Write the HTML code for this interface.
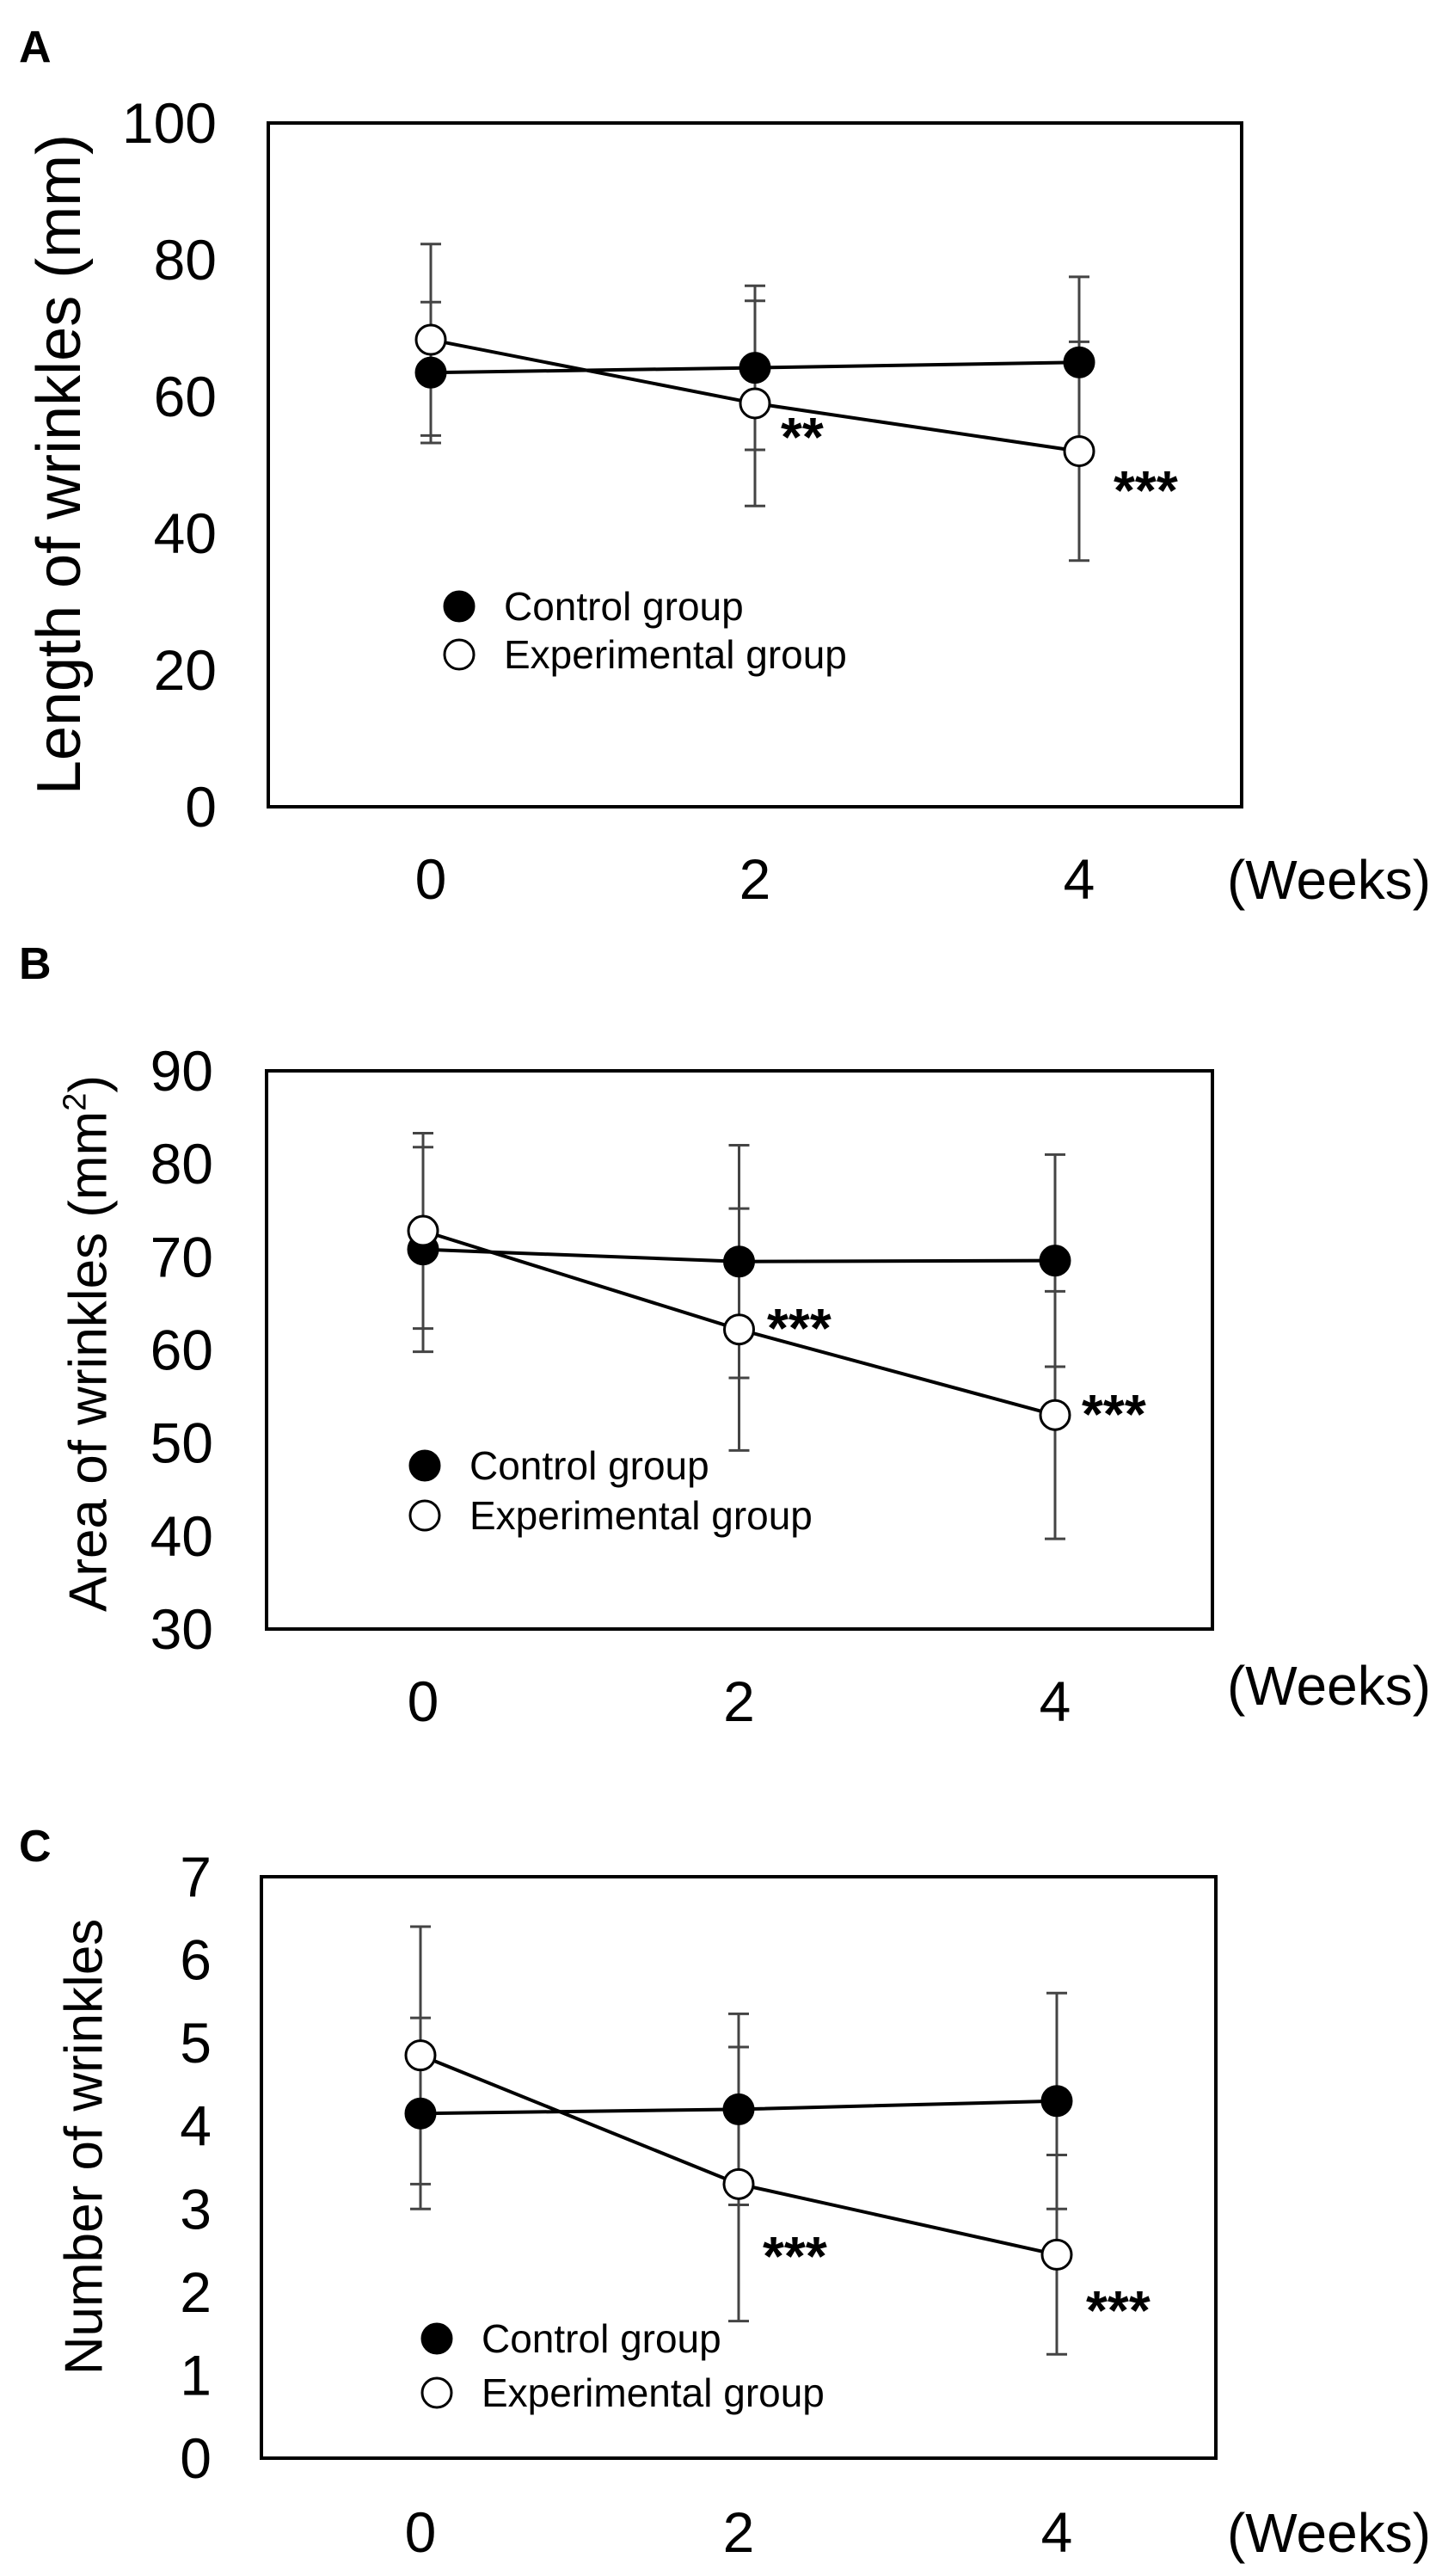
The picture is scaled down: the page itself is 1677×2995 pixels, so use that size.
<!DOCTYPE html>
<html><head><meta charset="utf-8">
<style>
html,body{margin:0;padding:0;background:#fff;}
svg{display:block;font-family:"Liberation Sans",Arial,sans-serif;}
</style></head>
<body>
<svg id="fig" width="1677" height="2995" viewBox="0 0 1677 2995" xmlns="http://www.w3.org/2000/svg"></svg>
<script>
// shared categories
const weeks = [0, 2, 4];
const weekLabels = ["0", "2", "4"];
// Panel A: length of wrinkles (mm)
const aTicks = [0, 20, 40, 60, 80, 100];
const aControl = [63.5, 64.2, 65.0];
const aControlSD = [10.3, 12.0, 12.5];
const aExp = [68.3, 59.0, 52.0];
const aExpSD = [14.0, 15.0, 16.0];
const aStars = ["", "**", "***"];
// Panel B: area of wrinkles (mm2)
const bTicks = [30, 40, 50, 60, 70, 80, 90];
const bControl = [70.8, 69.5, 69.6];
const bControlSD = [11.0, 12.5, 11.4];
const bExp = [72.8, 62.2, 53.0];
const bExpSD = [10.5, 13.0, 13.3];
const bStars = ["", "***", "***"];
// Panel C: number of wrinkles
const cTicks = [0, 1, 2, 3, 4, 5, 6, 7];
const cControl = [4.15, 4.2, 4.3];
const cControlSD = [1.15, 1.15, 1.3];
const cExp = [4.85, 3.3, 2.45];
const cExpSD = [1.55, 1.65, 1.2];
const cStars = ["", "***", "***"];

const NS = "http://www.w3.org/2000/svg";
const svg = document.getElementById("fig");
function mk(tag, attrs, parent, text) {
  const e = document.createElementNS(NS, tag);
  for (const k in attrs) e.setAttribute(k, attrs[k]);
  if (text !== undefined) e.textContent = text;
  (parent || svg).appendChild(e);
  return e;
}

function panel(cfg) {
  const g = mk("g", {});
  
  
  const ymin = cfg.ticks[0], ymax = cfg.ticks[cfg.ticks.length - 1];
  const yS = v => cfg.bottom - (v - ymin) / (ymax - ymin) * (cfg.bottom - cfg.top);
  const xS = w => cfg.x0 + (w - weeks[0]) / (weeks[2] - weeks[0]) * (cfg.x4 - cfg.x0);

  const lab = mk("text", {x: 22, y: cfg.labelY, "font-size": 52, "font-weight": "bold"}, g, cfg.letter);
  
  

  const box = mk("rect", {x: cfg.left, y: cfg.top, width: cfg.right - cfg.left, height: cfg.bottom - cfg.top, fill: "none", stroke: "#000", "stroke-width": 4}, g);
  
  

  cfg.ticks.forEach(t => {
    const tl = mk("text", {x: cfg.tickRight, y: yS(t) + 23, "font-size": 66, "text-anchor": "end"}, g, String(t));
    
    
  });
  weeks.forEach((w, i) => {
    const tl = mk("text", {x: xS(w), y: cfg.xLabelY + 23, "font-size": 66, "text-anchor": "middle"}, g, weekLabels[i]);
    
    
  });
  const wk = mk("text", {x: 1664, y: cfg.weeksY + 23, "font-size": 64, "text-anchor": "end"}, g, "(Weeks)");
  
  

  const yt = mk("text", {x: 0, y: 0, "font-size": cfg.titleSize, "text-anchor": "middle", transform: `translate(${cfg.titleX + cfg.titleSize * 0.35},${cfg.titleY}) rotate(-90)`}, g);
  
  
  yt.appendChild(document.createTextNode(cfg.title));
  if (cfg.sup) {
    mk("tspan", {"font-size": 38, dy: -24}, yt, "2");
    mk("tspan", {dy: 24}, yt, ")");
  }

  function bars(vals, sd, nm) {
    weeks.forEach((w, i) => {
      const x = xS(w), y1 = yS(vals[i] + sd[i]), y2 = yS(vals[i] - sd[i]);
      const eb = mk("g", {stroke: "#444", "stroke-width": 3}, g);
      
      
      mk("line", {x1: x, x2: x, y1: y1, y2: y2}, eb);
      mk("line", {x1: x - 12, x2: x + 12, y1: y1, y2: y1}, eb);
      mk("line", {x1: x - 12, x2: x + 12, y1: y2, y2: y2}, eb);
    });
  }
  bars(cfg.control, cfg.controlSD, 'control-error-bar');
  bars(cfg.exp, cfg.expSD, 'experimental-error-bar');

  function series(vals, fill, nm, ptName) {
    const pts = weeks.map((w, i) => xS(w) + "," + yS(vals[i])).join(" ");
    const ln = mk("polyline", {points: pts, fill: "none", stroke: "#000", "stroke-width": 4}, g);
    
    
    return () => weeks.forEach((w, i) => {
      const c = mk("circle", {cx: xS(w), cy: yS(vals[i]), r: 17, fill: fill, stroke: "#000", "stroke-width": 3}, g);
      
      
    });
  }
  const dc = series(cfg.control, "#000", 'control-line', 'control-point');
  const de = series(cfg.exp, "#fff", 'experimental-line', 'experimental-point');
  dc(); de();

  cfg.stars.forEach((s, i) => {
    if (!s) return;
    const st = mk("text", {x: cfg.starX[i], y: cfg.starY[i] + 28, "font-size": 64, "font-weight": "bold"}, g, s);
    
    
  });

  const lg = mk("g", {}, g);
  
  
  const e1 = mk("g", {}, lg);
  
  
  mk("circle", {cx: cfg.legX, cy: cfg.legY1, r: 17, fill: "#000", stroke: "#000", "stroke-width": 3}, e1);
  mk("text", {x: cfg.legX + 52, y: cfg.legY1 + 16, "font-size": 46}, e1, "Control group");
  const e2 = mk("g", {}, lg);
  
  
  mk("circle", {cx: cfg.legX, cy: cfg.legY2, r: 17, fill: "#fff", stroke: "#000", "stroke-width": 3}, e2);
  mk("text", {x: cfg.legX + 52, y: cfg.legY2 + 16, "font-size": 46}, e2, "Experimental group");
}

panel({name: "panel-a-length", letter: "A", labelY: 72, left: 312, right: 1444, top: 143, bottom: 938,
  x0: 501, x4: 1255, ticks: aTicks, tickRight: 252, xLabelY: 1022, weeksY: 1022,
  title: "Length of wrinkles (mm)", titleSize: 72, titleX: 68, titleY: 540, sup: false,
  control: aControl, controlSD: aControlSD, exp: aExp, expSD: aExpSD, stars: aStars,
  starX: [0, 908, 1295], starY: [0, 502, 564], legX: 534, legY1: 705, legY2: 761});
panel({name: "panel-b-area", letter: "B", labelY: 1138, left: 310, right: 1410, top: 1245, bottom: 1894,
  x0: 492, x4: 1227, ticks: bTicks, tickRight: 248, xLabelY: 1978, weeksY: 1959,
  title: "Area of wrinkles (mm", titleSize: 62, titleX: 102, titleY: 1562, sup: true,
  control: bControl, controlSD: bControlSD, exp: bExp, expSD: bExpSD, stars: bStars,
  starX: [0, 892, 1258], starY: [0, 1538, 1638], legX: 494, legY1: 1704, legY2: 1762});
panel({name: "panel-c-number", letter: "C", labelY: 2164, left: 304, right: 1414, top: 2182, bottom: 2858,
  x0: 489, x4: 1229, ticks: cTicks, tickRight: 246, xLabelY: 2944, weeksY: 2944,
  title: "Number of wrinkles", titleSize: 62, titleX: 97, titleY: 2496, sup: false,
  control: cControl, controlSD: cControlSD, exp: cExp, expSD: cExpSD, stars: cStars,
  starX: [0, 887, 1263], starY: [0, 2617, 2680], legX: 508, legY1: 2719, legY2: 2782});
</script>
</body></html>
